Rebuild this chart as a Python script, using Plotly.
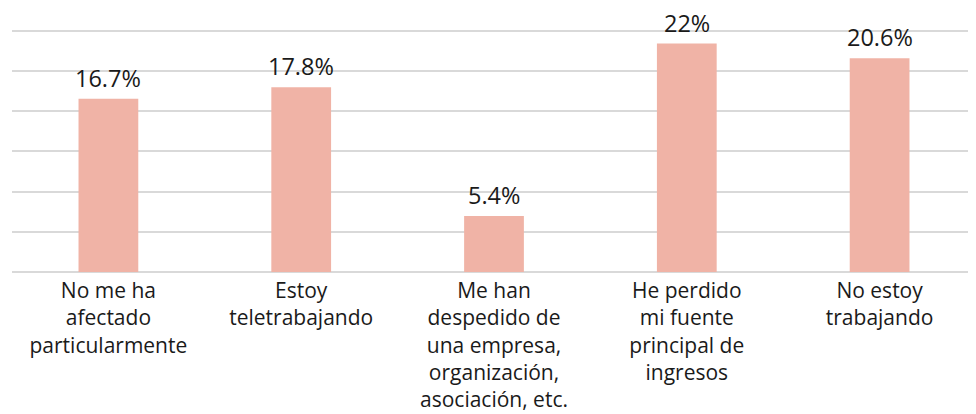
import plotly.graph_objects as go

categories = [
    "No me ha<br>afectado<br>particularmente",
    "Estoy<br>teletrabajando",
    "Me han<br>despedido de<br>una empresa,<br>organización,<br>asociación, etc.",
    "He perdido<br>mi fuente<br>principal de<br>ingresos",
    "No estoy<br>trabajando",
]
values = [16.7, 17.8, 5.4, 22.0, 20.6]
value_labels = ["16.7%", "17.8%", "5.4%", "22%", "20.6%"]

bar_color = "#F0B3A6"
text_color = "#1a1a1a"
font_family = "Open Sans, Noto Sans, sans-serif"

fig = go.Figure(
    go.Bar(
        x=categories,
        y=values,
        marker=dict(color=bar_color, line=dict(width=0)),
        width=0.31,
        hoverinfo="skip",
    )
)

for c, v, t in zip(categories, values, value_labels):
    fig.add_annotation(
        x=c, y=v, text=t, showarrow=False, yanchor="bottom", yshift=3,
        font=dict(family=font_family, size=23.5, color=text_color),
    )

fig.update_layout(
    width=968,
    height=406,
    margin=dict(l=4, r=0, t=19, b=142),
    paper_bgcolor="white",
    plot_bgcolor="white",
    showlegend=False,
    bargap=0.69,
    font=dict(family=font_family, size=22, color=text_color),
)
fig.update_xaxes(
    showgrid=False, showline=False, ticks="", zeroline=False,
    ticklabelstandoff=4,
    tickfont=dict(family=font_family, size=21, color=text_color),
)
fig.update_yaxes(
    range=[0, 23.6], tick0=0, dtick=3.87, showticklabels=False,
    showgrid=True, gridcolor="#D9D9D9", gridwidth=1.5,
    zeroline=True, zerolinecolor="#D9D9D9", zerolinewidth=1.5,
    showline=False, ticks="",
)

fig.write_html("out.html")
